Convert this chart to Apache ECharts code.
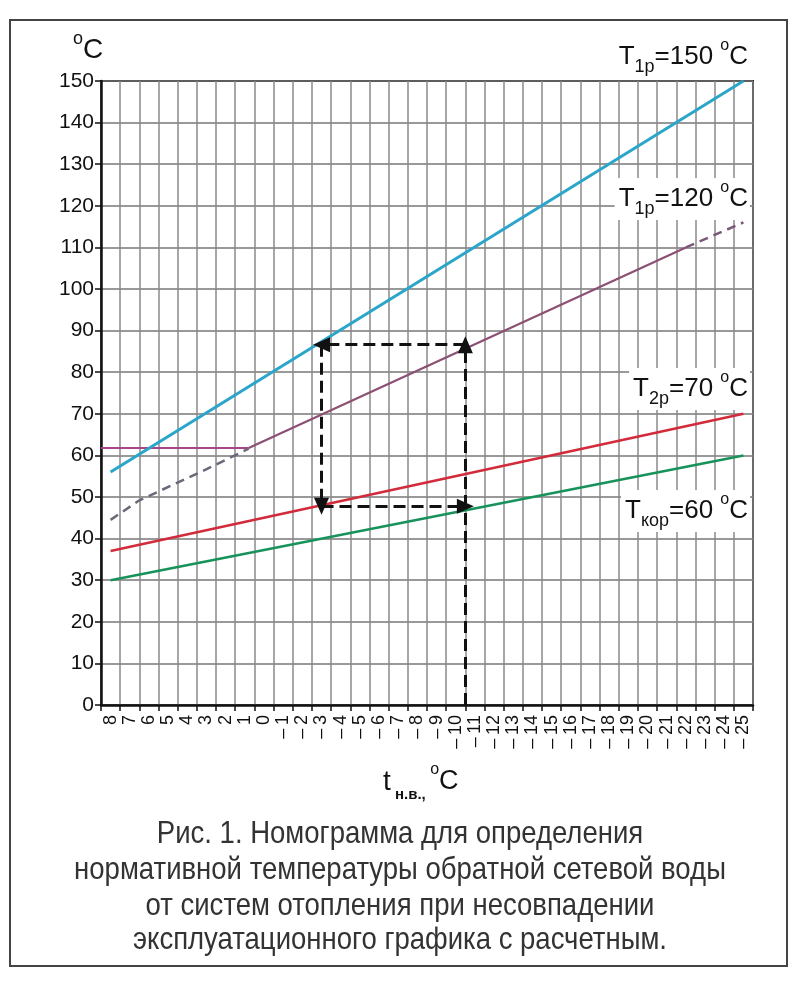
<!DOCTYPE html>
<html>
<head>
<meta charset="utf-8">
<script src="https://cdn.jsdelivr.net/npm/echarts@6/dist/echarts.min.js"></script>
<style>
html,body{margin:0;padding:0;background:#fff;}
#chart{width:804px;height:988px;}
</style>
</head>
<body>
<div id="chart"></div>
<script>
// Outdoor temperature categories (°C), left to right
const tempCategories = [8,7,6,5,4,3,2,1,0,-1,-2,-3,-4,-5,-6,-7,-8,-9,-10,-11,-12,-13,-14,-15,-16,-17,-18,-19,-20,-21,-22,-23,-24,-25];
// Y tick labels
const yTicks = [0,10,20,30,40,50,60,70,80,90,100,110,120,130,140,150];

// Series: [outdoor temperature, water temperature]
const t1p150 = [[8, 56], [-25, 150]];
const t1p120Flat = [[8.5, 61.8], [0.8, 61.8]];
const t1p120DashLow = [[8, 44.5], [6.5, 49.2], [3.4, 55.8], [0.8, 61.6]];
const t1p120Solid = [[0.8, 61.8], [-22, 110]];
const t1p120DashHigh = [[-22, 110], [-25, 116]];
const t2p70 = [[8, 37], [-25, 70]];
const tkor60 = [[8, 30], [-25, 60]];

// Dashed arrows (from, to)
const arrows = [
  [[-10.5, 0], [-10.5, 86.6]],
  [[-10.5, 86.6], [-3, 86.6]],
  [[-3, 86.6], [-3, 47.8]],
  [[-3, 47.8], [-10.5, 47.8]]
];

const FONT = '"Liberation Sans", Arial, sans-serif';
const chart = echarts.init(document.getElementById('chart'), null, {renderer: 'canvas'});

function lineSeries(name, data, color, width, type, z) {
  return {
    name: name, type: 'line', xAxisIndex: 1, yAxisIndex: 0,
    data: data, symbol: 'none', silent: true, z: z || 3,
    lineStyle: {color: color, width: width, type: type || 'solid', cap: 'butt'}
  };
}

function seriesLabel(sub, value, top, right) {
  return {
    type: 'text', right: right, top: top, z: 10,
    style: {
      text: '{t|T}{s|' + sub + '}{t|=' + value + ' }{o|o}{t|C}',
      fill: '#111',
      backgroundColor: '#fff',
      padding: [2, 2, 2, 4],
      rich: {
        t: {fontSize: 26, fontFamily: FONT, lineHeight: 38, verticalAlign: 'middle', fill: '#111'},
        s: {fontSize: 18, fontFamily: FONT, lineHeight: 38, verticalAlign: 'bottom', fill: '#111'},
        o: {fontSize: 16, fontFamily: FONT, lineHeight: 38, verticalAlign: 'top', fill: '#111'}
      }
    }
  };
}

const captionLines = [
  'Рис. 1. Номограмма для определения',
  'нормативной температуры обратной сетевой воды',
  'от систем отопления при несовпадении',
  'эксплуатационного графика с расчетным.'
];
const captionY = [834, 870, 906, 940];

const option = {
  animation: false,
  backgroundColor: '#fff',
  grid: {left: 101, right: 51, top: 81, bottom: 283, show: true, borderColor: '#111', borderWidth: 2, containLabel: false},
  xAxis: [
    {
      type: 'category',
      data: tempCategories,
      boundaryGap: true,
      axisLine: {onZero: false, lineStyle: {color: '#111', width: 2.5}},
      axisTick: {show: true, interval: 0, length: 6, lineStyle: {color: '#111', width: 1.5}},
      axisLabel: {
        interval: 0, rotate: 90, margin: 10, fontSize: 18, fontFamily: FONT, color: '#111',
        formatter: v => (Number(v) < 0 ? '–\u2009' + Math.abs(Number(v)) : String(v))
      },
      splitLine: {show: true, interval: 0, lineStyle: {color: '#8a8a8a', width: 1.5}}
    },
    {
      type: 'value', inverse: true, min: -25.5, max: 8.5, show: false,
      axisLine: {onZero: false},
      splitLine: {show: false}
    }
  ],
  yAxis: [{
    type: 'value', min: 0, max: 150, interval: 10,
    axisLine: {show: true, onZero: false, lineStyle: {color: '#111', width: 2.5}},
    axisTick: {show: true, length: 6, lineStyle: {color: '#111', width: 1.5}},
    axisLabel: {fontSize: 21, fontFamily: FONT, color: '#111', margin: 7,
      formatter: v => (yTicks.indexOf(v) >= 0 ? String(v) : '')},
    splitLine: {show: true, lineStyle: {color: '#777', width: 1.5}}
  }],
  series: [
    lineSeries('Tкор=60', tkor60, '#17925a', 2.5),
    lineSeries('T2р=70', t2p70, '#d22b3b', 2.5),
    lineSeries('T1р=120 flat', t1p120Flat, '#a8448c', 2),
    lineSeries('T1р=120 low', t1p120DashLow, '#6c6878', 2.5, [9, 6]),
    lineSeries('T1р=120', t1p120Solid, '#8c5072', 2.2),
    lineSeries('T1р=120 high', t1p120DashHigh, '#7a5878', 2.5, [9, 6]),
    lineSeries('T1р=150', t1p150, '#2ba5c9', 3),
    {
      type: 'line', xAxisIndex: 1, yAxisIndex: 0, data: [], silent: true, z: 5,
      markLine: {
        silent: true, animation: false,
        symbol: ['none', 'triangle'], symbolSize: [15, 17],
        label: {show: false},
        lineStyle: {color: '#111', width: 3, type: [12, 6]},
        emphasis: {disabled: true},
        data: arrows.map(a => [{coord: a[0]}, {coord: a[1]}])
      }
    }
  ],
  graphic: [
    {type: 'rect', shape: {x: 10, y: 20, width: 777, height: 946}, style: {fill: 'none', stroke: '#444', lineWidth: 2}, z: 0},
    {type: 'text', left: 73, top: 30, style: {text: '{o|o}{c|C}', rich: {
      o: {fontSize: 18, fontFamily: FONT, verticalAlign: 'top', lineHeight: 34, fill: '#111'},
      c: {fontSize: 28, fontFamily: FONT, verticalAlign: 'bottom', lineHeight: 34, fill: '#111'}}}},
    {type: 'text', left: 383, top: 762, style: {text: '{t|t}{s| н.в.,}{o| o}{c|C}', rich: {
      t: {fontSize: 28, fontFamily: FONT, verticalAlign: 'middle', lineHeight: 40, fill: '#111'},
      s: {fontSize: 15, fontWeight: 'bold', fontFamily: FONT, verticalAlign: 'bottom', lineHeight: 40, fill: '#111'},
      o: {fontSize: 16, fontFamily: FONT, verticalAlign: 'top', lineHeight: 40, fill: '#111'},
      c: {fontSize: 27, fontFamily: FONT, verticalAlign: 'middle', lineHeight: 40, fill: '#111'}}}},
    seriesLabel('1р', '150', 36, 54),
    seriesLabel('1р', '120', 178, 54),
    seriesLabel('2р', '70', 368, 54),
    seriesLabel('кор', '60', 490, 54)
  ].concat(captionLines.map((line, i) => ({
    type: 'text', x: 400, y: captionY[i], scaleX: 0.86, z: 10,
    style: {text: line, textAlign: 'center', textVerticalAlign: 'middle', fontSize: 32,
      fontFamily: FONT, fill: '#333'}
  })))
};

chart.setOption(option);
</script>
</body>
</html>
